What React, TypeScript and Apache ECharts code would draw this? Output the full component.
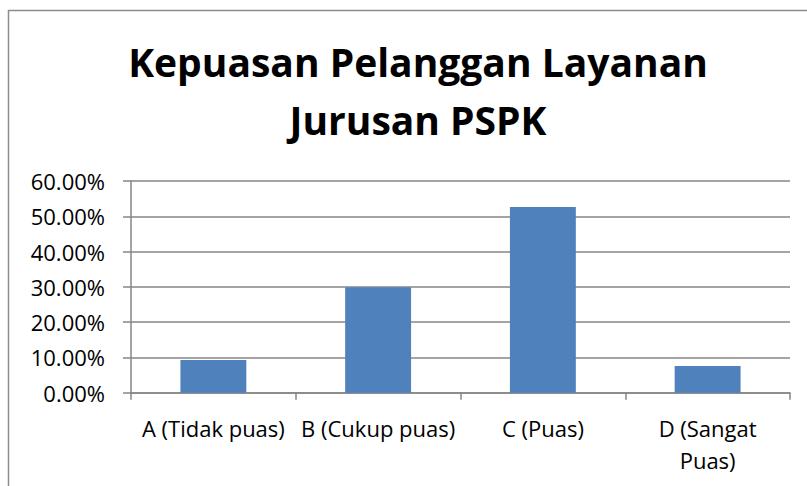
import React, { useEffect, useRef } from "react";
import * as echarts from "echarts";

const categories = ["A (Tidak puas)", "B (Cukup puas)", "C (Puas)", "D (Sangat\nPuas)"];
const values = [9.3, 29.9, 52.6, 7.6];
const titleText = "Kepuasan Pelanggan Layanan\nJurusan PSPK";

const FONT = "Open Sans";

export default function App() {
  const ref = useRef<HTMLDivElement>(null);
  useEffect(() => {
    if (!ref.current) return;
    const chart = echarts.init(ref.current, null, { renderer: "svg" });
    chart.setOption({
      animation: false,
      backgroundColor: "#ffffff",
      title: {
        text: titleText,
        left: 413,
        top: 27,
        textAlign: "center",
        textStyle: {
          fontFamily: FONT,
          fontWeight: "bold",
          fontSize: 39,
          lineHeight: 58,
          color: "#000000",
        },
      },
      graphic: [
        {
          type: "rect",
          shape: { x: 8.5, y: 10.5, width: 900, height: 600 },
          style: { fill: "none", stroke: "#8c8c8c", lineWidth: 1.5 },
          silent: true,
          z: -1,
        },
      ],
      grid: { left: 131, right: 17, top: 181, bottom: 93.3, containLabel: false },
      xAxis: {
        type: "category",
        data: categories,
        axisLine: { show: true, lineStyle: { color: "#868686", width: 1.5 } },
        axisTick: { show: true, length: 7, lineStyle: { color: "#868686", width: 1.5 } },
        axisLabel: {
          interval: 0,
          margin: 19,
          fontFamily: FONT,
          fontSize: 22,
          lineHeight: 32,
          color: "#000000",
          align: "center",
        },
      },
      yAxis: {
        type: "value",
        min: 0,
        max: 60,
        interval: 10,
        axisLine: { show: true, lineStyle: { color: "#868686", width: 1.5 } },
        axisTick: { show: true, inside: false, length: 8, lineStyle: { color: "#868686", width: 1.5 } },
        splitLine: { show: true, lineStyle: { color: "#868686", width: 1.5 } },
        axisLabel: {
          margin: 26,
          fontFamily: FONT,
          fontSize: 22,
          color: "#000000",
          formatter: (v: number) => v.toFixed(2) + "%",
        },
      },
      series: [
        {
          type: "bar",
          data: values,
          barWidth: "40%",
          itemStyle: { color: "#4F81BD" },
        },
      ],
    });
    return () => chart.dispose();
  }, []);
  return (
    <div
      ref={ref}
      style={{ position: "fixed", left: 0, top: 0, width: 807, height: 486 }}
    />
  );
}
